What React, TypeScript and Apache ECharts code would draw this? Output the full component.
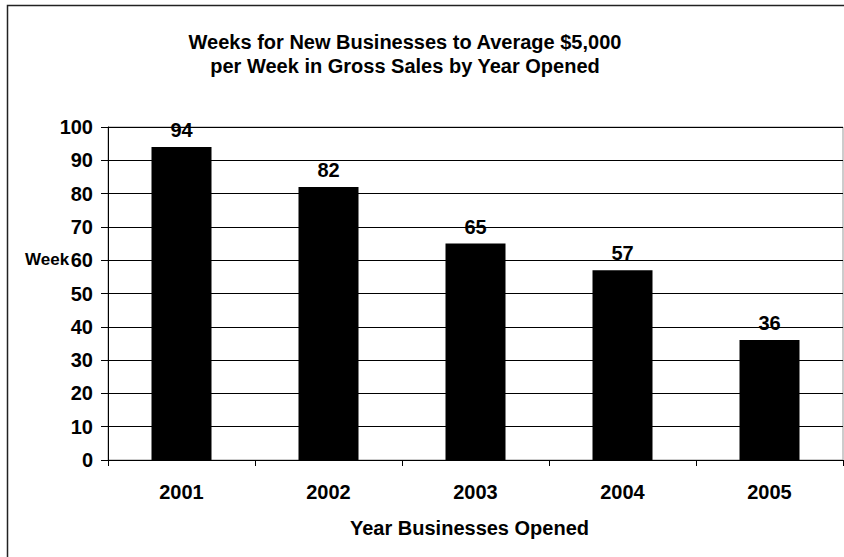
import React, { useEffect, useRef } from "react";
import * as echarts from "echarts";

const categories = ["2001", "2002", "2003", "2004", "2005"];
const weeks = [94, 82, 65, 57, 36];
const titleLines = ["Weeks for New Businesses to Average $5,000", "per Week in Gross Sales by Year Opened"];
const xAxisName = "Year Businesses Opened";
const yAxisName = "Week";

const FONT = "'Liberation Sans', Arial, sans-serif";

export default function App() {
  const ref = useRef<HTMLDivElement>(null);
  useEffect(() => {
    if (!ref.current) return;
    const chart = echarts.init(ref.current, null, { renderer: "svg" });
    chart.setOption({
      animation: false,
      backgroundColor: "#fff",
      title: {
        text: titleLines.join("\n"),
        left: 400,
        top: 25,
        textAlign: "center",
        textStyle: { fontFamily: FONT, fontSize: 20, fontWeight: "bold", color: "#000", lineHeight: 24 },
      },
      grid: {
        left: 108,
        top: 127,
        right: 1,
        bottom: 97,
        show: true,
        borderColor: "#999",
        borderWidth: 1,
      },
      xAxis: {
        type: "category",
        data: categories,
        name: xAxisName,
        nameLocation: "middle",
        nameGap: 58,
        nameTextStyle: { fontFamily: FONT, fontSize: 20, fontWeight: "bold", color: "#000", padding: [0, 12, 0, 0] },
        axisLine: { lineStyle: { color: "#000", width: 1 } },
        axisTick: { show: true, length: 6, lineStyle: { color: "#000" } },
        axisLabel: { fontFamily: FONT, fontSize: 20, fontWeight: "bold", color: "#000", margin: 22 },
      },
      yAxis: {
        type: "value",
        min: 0,
        max: 100,
        interval: 10,
        axisLine: { show: true, lineStyle: { color: "#000", width: 1 } },
        axisTick: { show: true, length: 7, lineStyle: { color: "#000" } },
        axisLabel: { fontFamily: FONT, fontSize: 20, fontWeight: "bold", color: "#000", margin: 15 },
        splitLine: { show: true, lineStyle: { color: "#000", width: 1 } },
      },
      series: [
        {
          type: "bar",
          data: weeks,
          barWidth: 60,
          itemStyle: { color: "#000" },
          label: {
            show: true,
            position: "top",
            distance: 7,
            fontFamily: FONT,
            fontSize: 20,
            fontWeight: "bold",
            color: "#000",
          },
        },
      ],
      graphic: [
        {
          type: "rect",
          shape: { x: 7.5, y: 5.5, width: 900, height: 600 },
          style: { fill: "none", stroke: "#222", lineWidth: 1.5 },
          silent: true,
        },
        {
          type: "text",
          x: 25,
          y: 259,
          style: {
            text: yAxisName,
            fontFamily: FONT,
            fontSize: 17,
            fontWeight: "bold",
            fill: "#000",
            verticalAlign: "middle",
          },
        },
      ],
    });
    return () => chart.dispose();
  }, []);
  return (
    <div
      ref={ref}
      style={{ position: "fixed", left: 0, top: 0, width: 844, height: 557 }}
    />
  );
}
